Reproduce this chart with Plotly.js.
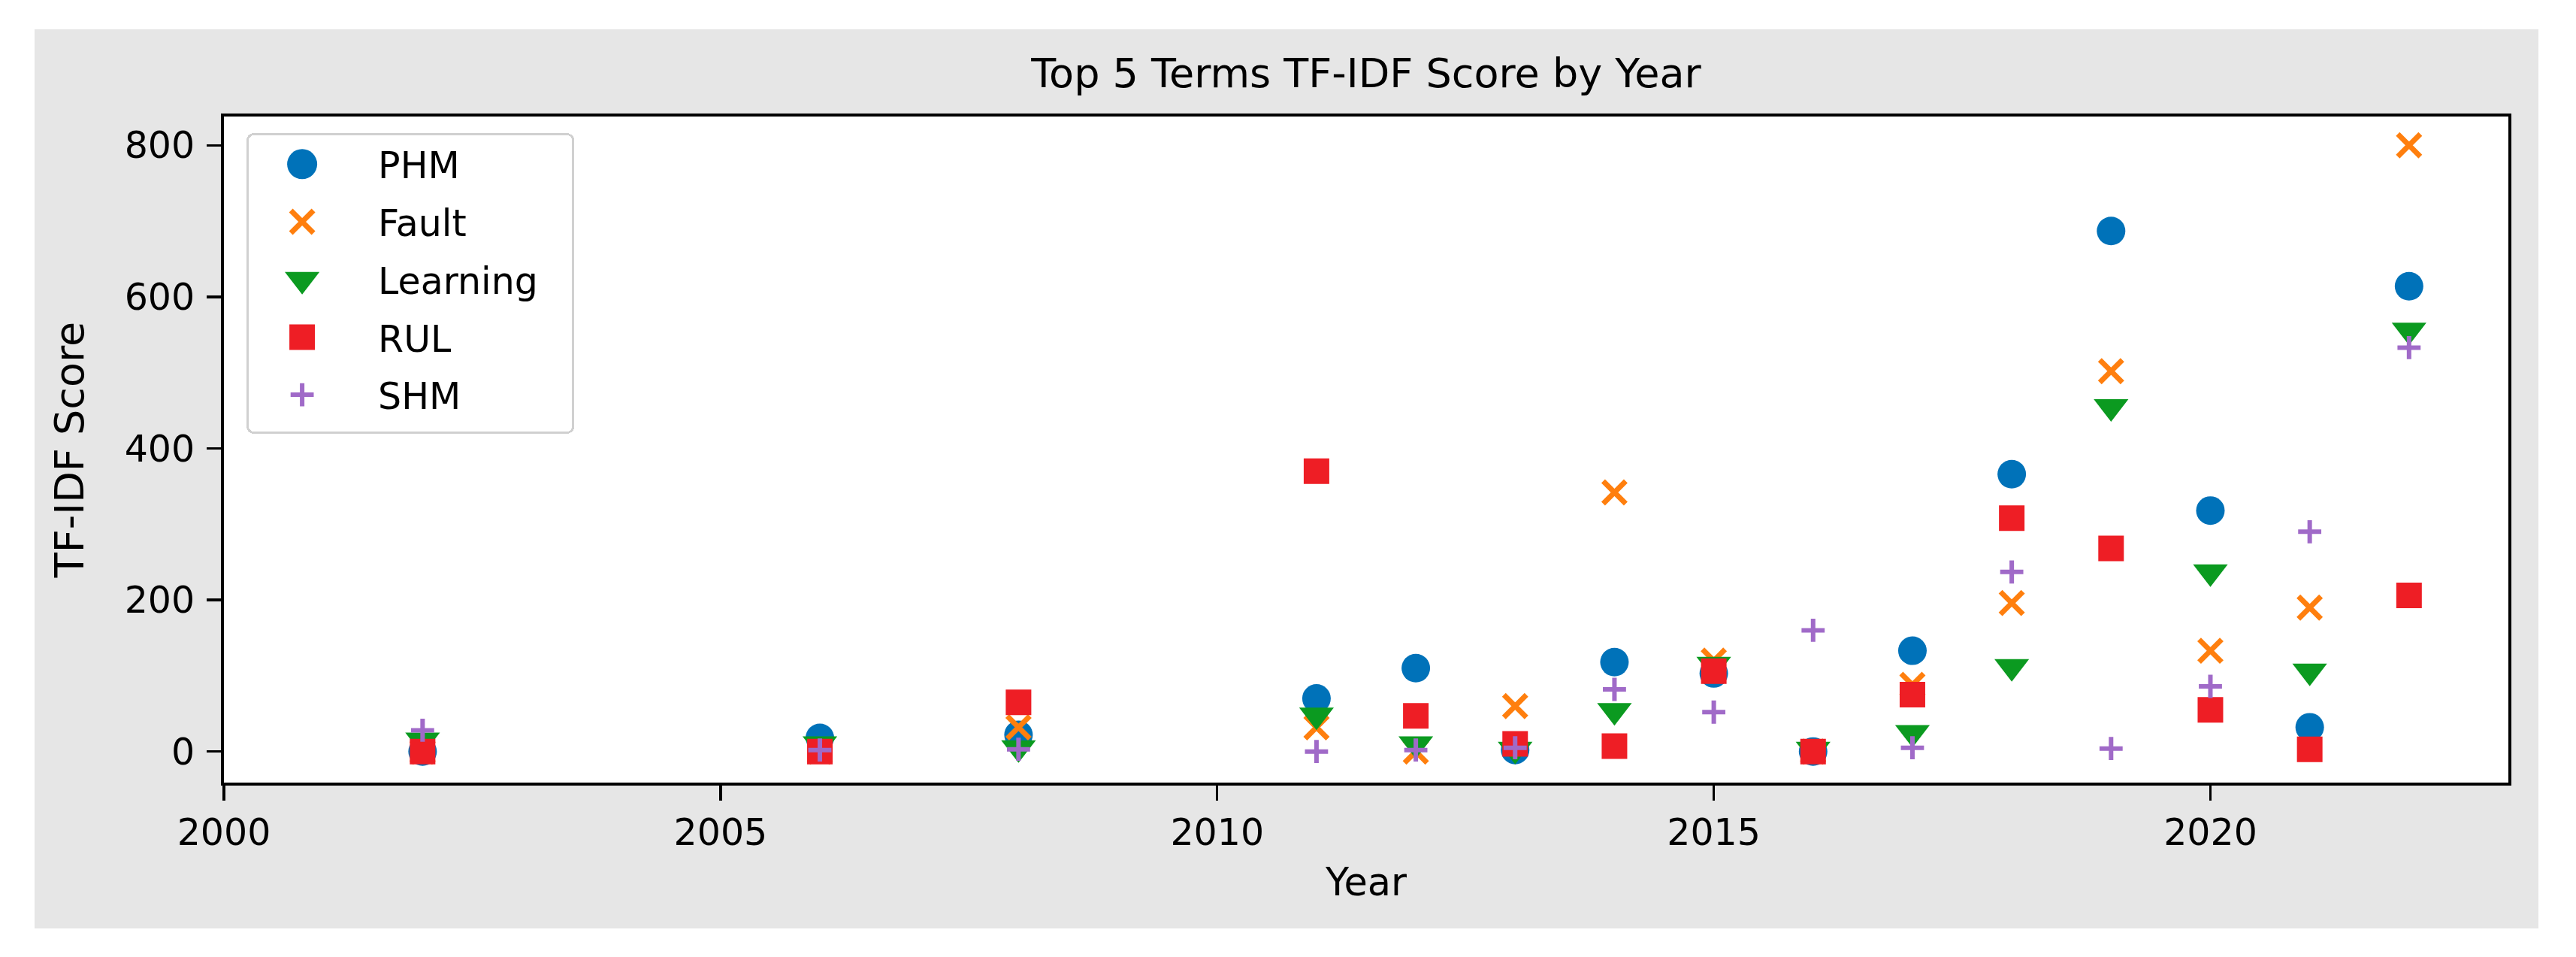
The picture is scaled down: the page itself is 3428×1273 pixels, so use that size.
<!DOCTYPE html>
<html>
<head>
<meta charset="utf-8">
<script src="https://cdn.plot.ly/plotly-3.0.1.min.js"></script>
<style>
  html, body { margin: 0; padding: 0; background: #ffffff; width: 3428px; height: 1273px; overflow: hidden; }
  #chart { position: absolute; left: 46px; top: 39px; width: 3332px; height: 1196px; }
</style>
</head>
<body>
<div id="chart"></div>
<script>
// ---- data ----
var years    = [2002, 2006, 2008, 2011, 2012, 2013, 2014, 2015, 2016, 2017, 2018, 2019, 2020, 2021, 2022];
var phm      = [0,    18,   22,   70,   110,  2,    118,  103,  0,    133,  366,  687,  318,  32,   614];
var fault    = [0,    0,    32,   32,   0,    60,   342,  120,  0,    88,   196,  502,  133,  190,  800];
var learning = [15,   10,   5,    48,   10,   3,    54,   115,  3,    25,   112,  455,  237,  106,  556];
var rul      = [0,    0,    65,   370,  47,   10,   7,    106,  0,    75,   308,  268,  55,   3,    206];
var shm      = [28,   2,    3,    0,    2,    5,    82,   52,   160,  5,    237,  4,    86,   290,  533];
var termNames = ['PHM', 'Fault', 'Learning', 'RUL', 'SHM'];
var xTicks = [2000, 2005, 2010, 2015, 2020];
var yTicks = [0, 200, 400, 600, 800];

// ---- styles ----
var FONT = 'DejaVu Sans';
var styles = [
  {color: '#0072b9', symbol: 'circle',        size: 38, lw: 0, leg: 40},
  {color: '#ff7f0e', symbol: 'x-thin',        size: 30, lw: 7, leg: 30},
  {color: '#0b9a20', symbol: 'triangle-down', size: 40, lw: 0, leg: 40},
  {color: '#ee1e25', symbol: 'square',        size: 34, lw: 0, leg: 34},
  {color: '#a06ac8', symbol: 'cross-thin',    size: 22, lw: 6, leg: 22}
];
var series = [phm, fault, learning, rul, shm];

var traces = series.map(function (vals, i) {
  var s = styles[i];
  var marker = {symbol: s.symbol, size: s.size, color: s.color};
  if (s.lw > 0) marker.line = {color: s.color, width: s.lw};
  else marker.line = {width: 0};
  return {
    type: 'scatter', mode: 'markers', name: termNames[i],
    x: years, y: vals, marker: marker,
    legendgroup: 'g' + i, cliponaxis: false
  };
});

var layout = {
  width: 3332, height: 1196,
  paper_bgcolor: '#e6e6e6', plot_bgcolor: '#ffffff',
  margin: {l: 252, r: 40, t: 116, b: 194},
  font: {family: FONT, color: '#000000', size: 49},
  title: {text: 'Top 5 Terms TF-IDF Score by Year', font: {family: FONT, size: 54, color: '#000000'},
          x: 0.5, xref: 'paper', xanchor: 'center', y: 0.9515, yref: 'container', yanchor: 'middle'},
  xaxis: {
    range: [2000, 2023], tickvals: xTicks, ticktext: xTicks.map(String),
    showgrid: false, zeroline: false, showline: true, mirror: true, linecolor: '#000000', linewidth: 4,
    ticks: 'outside', ticklen: 20, tickwidth: 3.5, tickcolor: '#000000',
    tickfont: {family: FONT, size: 49, color: '#000000'},
    title: {text: 'Year', font: {family: FONT, size: 51, color: '#000000'}, standoff: 22}
  },
  yaxis: {
    range: [-41, 838], tickvals: yTicks, ticktext: yTicks.map(String),
    showgrid: false, zeroline: false, showline: true, mirror: true, linecolor: '#000000', linewidth: 4,
    ticks: 'outside', ticklen: 19, tickwidth: 3.5, tickcolor: '#000000', ticklabelstandoff: 6,
    tickfont: {family: FONT, size: 49, color: '#000000'},
    title: {text: 'TF-IDF Score', font: {family: FONT, size: 54, color: '#000000'}, standoff: 38}
  },
  showlegend: true,
  legend: {
    x: 0.0099, y: 0.9752, xanchor: 'left', yanchor: 'top',
    bgcolor: '#ffffff', bordercolor: '#d0d0d0', borderwidth: 3,
    font: {family: FONT, size: 49, color: '#000000'},
    itemwidth: 162, tracegroupgap: 10, itemsizing: 'trace'
  }
};

var gd = document.getElementById('chart');
Plotly.newPlot(gd, traces, layout, {staticPlot: true, displayModeBar: false}).then(function () {
  // enlarge legend symbols to match the plotted marker sizes (legend caps them at 16px)
  var items = gd.querySelectorAll('.legend .traces');
  items.forEach(function (item, i) {
    var s = styles[i];
    var p = item.querySelector('path.scatterpts');
    if (!p) return;
    var k = s.leg / 16;
    var tr = p.getAttribute('transform') || '';
    p.setAttribute('transform', 'translate(-15,0) ' + tr + ' scale(' + k + ')');
    p.style.vectorEffect = 'non-scaling-stroke';
    if (s.lw > 0) p.style.strokeWidth = s.lw + 'px';
  });
  var bg = gd.querySelector('.legend rect.bg');
  if (bg) {
    bg.setAttribute('width', 433);
    bg.setAttribute('height', 397);
    bg.setAttribute('rx', 8);
    bg.setAttribute('ry', 8);
  }
});
</script>
</body>
</html>
